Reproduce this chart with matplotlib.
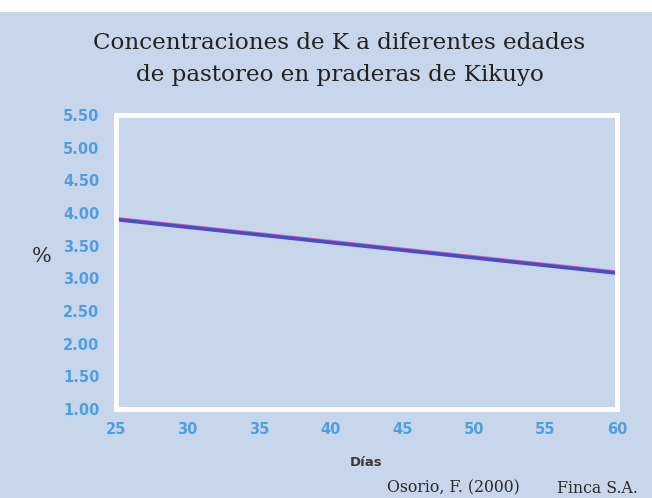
import matplotlib
matplotlib.use("Agg")
import matplotlib.pyplot as plt
from matplotlib.patches import Rectangle

# data
dias = [25, 60]
potasio = [3.90, 3.08]
x_ticks = [25, 30, 35, 40, 45, 50, 55, 60]
y_ticks = [1.00, 1.50, 2.00, 2.50, 3.00, 3.50, 4.00, 4.50, 5.00, 5.50]

bg = "#c8d6eb"
tick_color = "#4f9fe0"

W, H = 652, 498
fig = plt.figure(figsize=(W / 100, H / 100), dpi=100)
fig.patch.set_facecolor(bg)

# white strip at the top of the scanned page
fig.patches.append(Rectangle((0, 1 - 12 / H), 1, 12 / H, transform=fig.transFigure,
                             facecolor="white", edgecolor="none", zorder=0))

ax = fig.add_axes([116 / W, 1 - 409 / H, (617 - 116) / W, (409 - 115) / H])
ax.set_facecolor(bg)

# line with a slight magenta fringe on top
ax.plot(dias, [v + 0.02 for v in potasio], color="#d060c0", lw=2.0, solid_capstyle="butt")
ax.plot(dias, potasio, color="#4a4cc4", lw=2.6, solid_capstyle="butt")

ax.set_xlim(25, 60)
ax.set_ylim(1.0, 5.5)
ax.set_xticks(x_ticks)
ax.set_yticks(y_ticks)
ax.set_yticklabels(["%.2f" % v for v in y_ticks])
ax.tick_params(length=0, colors=tick_color, labelsize=10.5)
ax.tick_params(axis="x", pad=9)
ax.tick_params(axis="y", pad=12)
for lab in ax.get_xticklabels() + ax.get_yticklabels():
    lab.set_fontweight("bold")
    lab.set_family("DejaVu Sans")

for s in ax.spines.values():
    s.set_color("white")
    s.set_linewidth(3.5)

fig.text(0.5 * (92 + 587) / W, 1 - 59 / H,
         "Concentraciones de K a diferentes edades\nde pastoreo en praderas de Kikuyo",
         ha="center", va="center", family="DejaVu Serif", fontsize=16.6,
         color="#222222", linespacing=1.6)

fig.text(42 / W, 1 - 257 / H, "%", ha="center", va="center",
         family="DejaVu Serif", fontsize=15, color="#2a2a2a")

fig.text(366 / W, 1 - 462 / H, "Días", ha="center", va="center",
         family="DejaVu Sans", fontweight="bold", fontsize=9.5, color="#3a3a3a")

fig.text(387 / W, 1 - 488 / H, "Osorio, F. (2000)", ha="left",
         va="center", family="DejaVu Serif", fontsize=11.3, color="#2a2a2a")
fig.text(638 / W, 1 - 488 / H, "Finca S.A.", ha="right",
         va="center", family="DejaVu Serif", fontsize=11.3, color="#2a2a2a")

fig.savefig("out.png", dpi=100, facecolor=fig.get_facecolor())
